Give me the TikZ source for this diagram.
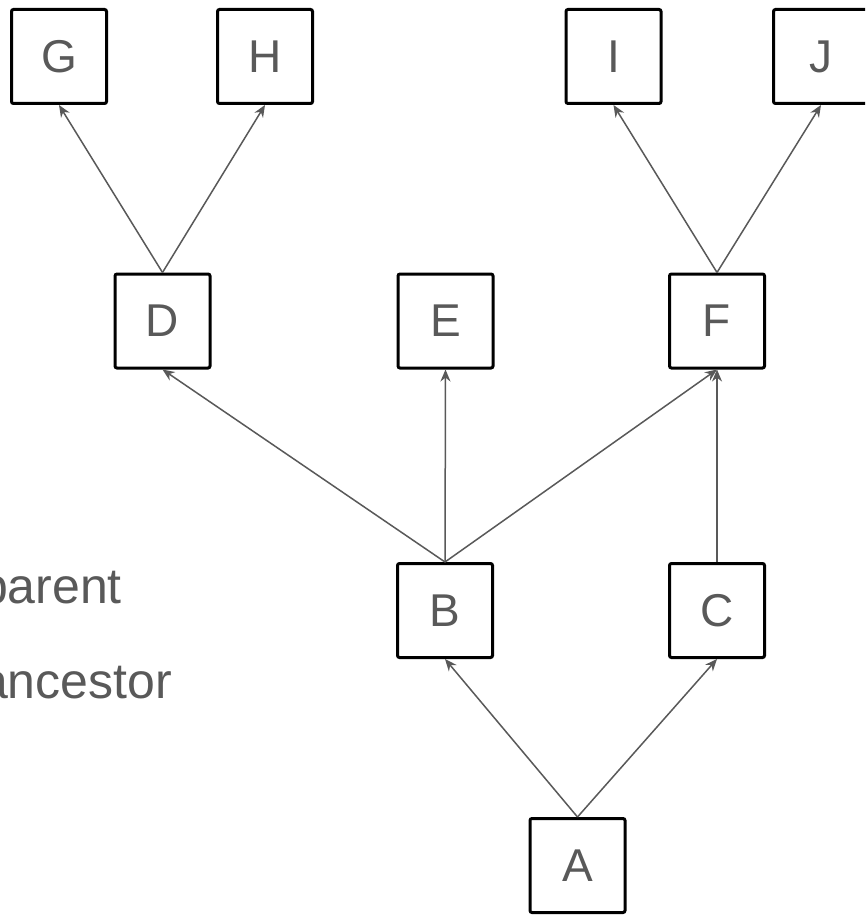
\documentclass[tikz,border=0pt]{standalone}
\usepackage{fontspec}
\setmainfont{Liberation Sans}
\usetikzlibrary{arrows.meta}
\definecolor{ink}{HTML}{595959}
\tikzset{
  box/.style={draw=black, line width=3pt, rounded corners=2pt, fill=white,
    minimum width=95pt, minimum height=94pt, inner sep=0pt,
    text=ink, font=\fontsize{46}{50}\selectfont},
  link/.style={draw=ink, line width=1.5pt, -{Stealth[length=12pt,width=10pt]}},
  lbl/.style={text=ink, font=\fontsize{50}{56}\selectfont, inner sep=0pt}
}
\begin{document}
\begin{tikzpicture}[x=1pt,y=1pt]
\clip (0,0) rectangle (865,-915);
\fill[white] (0,0) rectangle (865,-915);
\node[box] (g) at (59,-56.5) {G};
\node[box] (h) at (265,-56.5) {H};
\node[box] (i) at (613.5,-56.5) {I};
\node[box] (j) at (821,-56.5) {J};
\node[box] (d) at (162.5,-321) {D};
\node[box] (e) at (445.5,-321) {E};
\node[box] (f) at (717,-321) {F};
\node[box] (b) at (445,-610.5) {B};
\node[box] (c) at (717,-610.5) {C};
\node[box] (a) at (577.5,-865.5) {A};
\draw[link] (a.north) -- (b.south);
\draw[link] (a.north) -- (c.south);
\draw[link] (b.north) -- (d.south);
\draw[link] (b.north) -- (e.south);
\draw[link] (b.north) -- (f.south);
\draw[link] (c.north) -- (f.south);
\draw[link] (d.north) -- (g.south);
\draw[link] (d.north) -- (h.south);
\draw[link] (f.north) -- (i.south);
\draw[link] (f.north) -- (j.south);
\node[lbl, anchor=base east] (parent) at (122,-603) {parent};
\node[lbl, anchor=base west] (ancestor) at (parent.base west |- 0,-698) {ancestor};
\end{tikzpicture}
\end{document}
